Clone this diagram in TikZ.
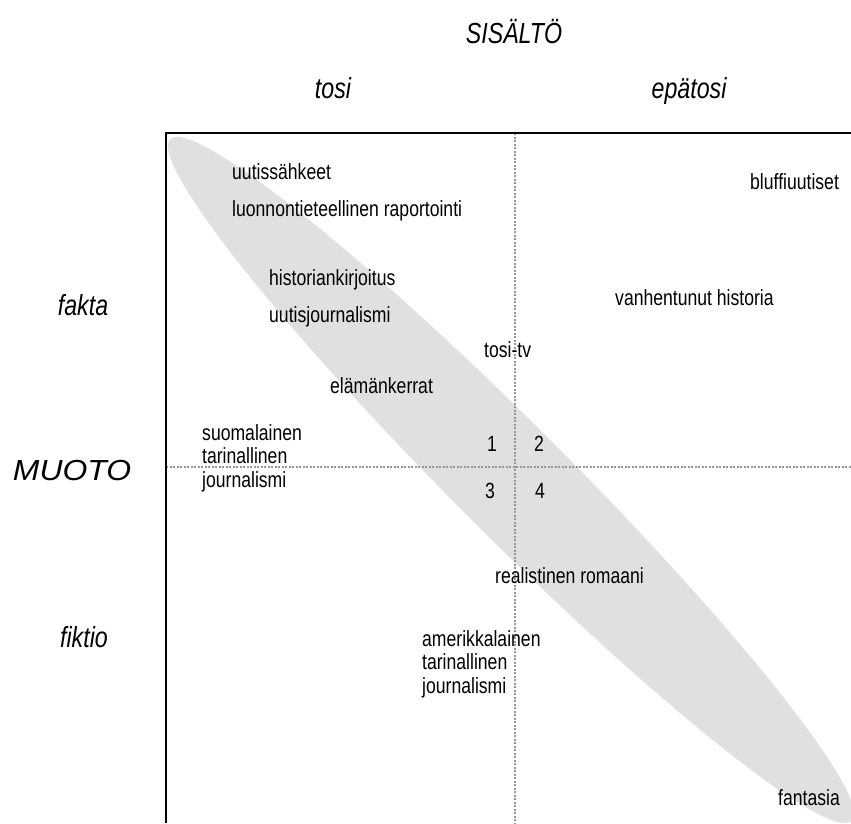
\documentclass[tikz,border=0pt]{standalone}
\usepackage{fontspec}
\setmainfont{Liberation Sans}[FakeStretch=0.8]
\newfontfamily\widelabel{Liberation Sans}[FakeStretch=1.1]
\usetikzlibrary{positioning}
\definecolor{bandgray}{RGB}{224,224,224}
\definecolor{axisgray}{RGB}{150,150,150}
\tikzset{
  item/.style={anchor=base west,inner sep=0pt,align=left,
               font=\fontsize{22}{23.5}\selectfont},
  axislabel/.style={anchor=base,inner sep=0pt,
               font=\fontsize{29}{30}\selectfont\itshape},
  quadline/.style={axisgray,line width=1.5pt,dash pattern=on 2pt off 1.5pt},
  boxline/.style={black,line width=1.3pt},
}

\begin{document}
\begin{tikzpicture}[x=1pt,y=-1pt]
    \useasboundingbox (0,0) rectangle (851,823);
    \clip (0,0) rectangle (851,823);
    % the band
    \fill[bandgray,rotate around={-45:(511,480)}] (511,480) ellipse (482 and 56);
    % quadrants
    \coordinate (ctop) at (515,133);
    \coordinate (cbot) at (515,823);
    \coordinate (cleft) at (166,467);
    \coordinate (cright) at (851,467);
    \draw[quadline] (ctop) -- (cbot);
    \draw[quadline] (cleft) -- (cright);
    \coordinate (boxbl) at (166,823);
    \coordinate (boxtl) at (166,133);
    \coordinate (boxtr) at (851,133);
    \draw[boxline] (boxbl) -- (boxtl) -- (boxtr);
    % axis labels
    \node[axislabel] (sisalto) at (514,43) {SISÄLTÖ};
    \node[axislabel] (tosi) at (333,98) {tosi};
    \node[axislabel] (epatosi) at (689,98) {epätosi};
    \node[axislabel] (fakta) at (83,315) {fakta};
    \node[axislabel,font=\fontsize{29}{30}\widelabel\itshape] (muoto) at (72,480) {MUOTO};
    \node[axislabel] (fiktio) at (84,647) {fiktio};
    % genres
    \node[item] (uutiss) at (232,179) {uutissähkeet};
    \node[item] (luonnon) at (232,216) {luonnontieteellinen raportointi};
    \node[item] (bluffi) at (750,189) {bluffiuutiset};
    \node[item] (histor) at (269,285) {historiankirjoitus};
    \node[item] (uutisj) at (269,322) {uutisjournalismi};
    \node[item] (vanhen) at (615,305) {vanhentunut historia};
    \node[item] (tositv) at (484,357) {tosi-tv};
    \node[item] (elaman) at (330,393) {elämänkerrat};
    \node[item] (suomal) at (202,487) {suomalainen\\tarinallinen\\journalismi};
    \node[item] (q1) at (487,451) {1};
    \node[item] (q2) at (534,451) {2};
    \node[item] (q3) at (485,498) {3};
    \node[item] (q4) at (535,498) {4};
    \node[item] (realis) at (495,583) {realistinen romaani};
    \node[item] (amerik) at (422,693) {amerikkalainen\\tarinallinen\\journalismi};
    \node[item] (fantas) at (778,805) {fantasia};
\end{tikzpicture}
\end{document}
